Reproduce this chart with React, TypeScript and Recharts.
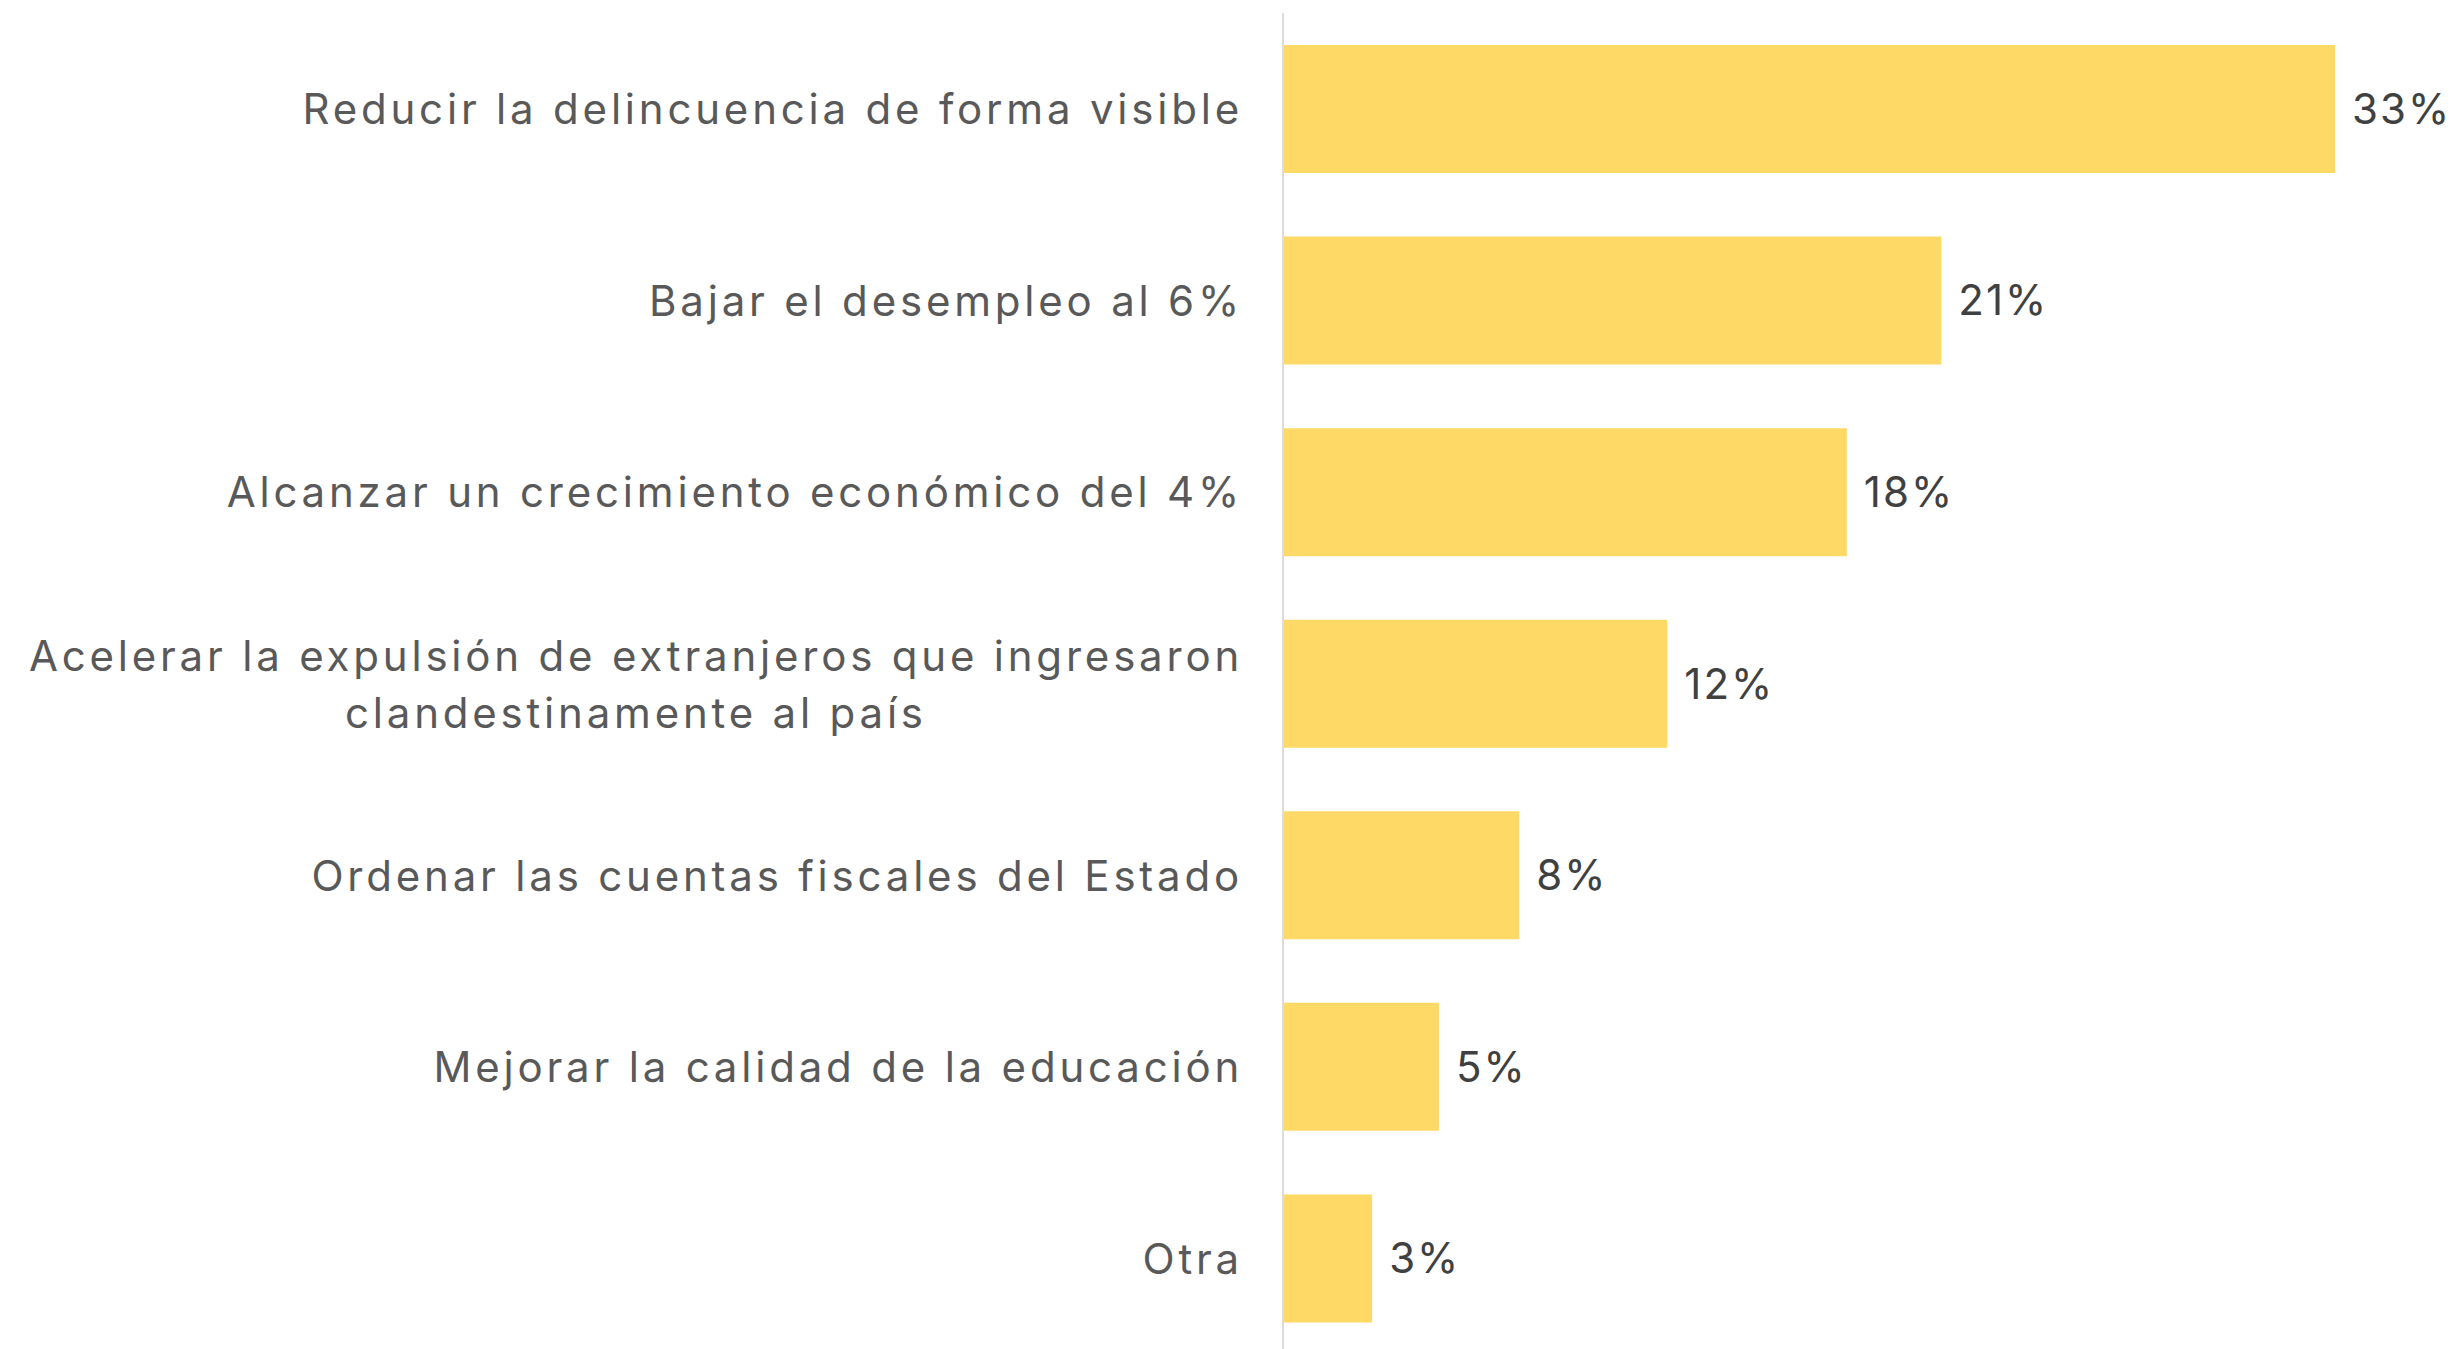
import { Bar, BarChart, LabelList, XAxis, YAxis } from 'recharts';

const categories = [
  'Reducir la delincuencia de forma visible',
  'Bajar el desempleo al 6%',
  'Alcanzar un crecimiento económico del 4%',
  'Acelerar la expulsión de extranjeros que ingresaron\nclandestinamente al país',
  'Ordenar las cuentas fiscales del Estado',
  'Mejorar la calidad de la educación',
  'Otra'
];

const shares = [33.4, 20.9, 17.9, 12.2, 7.5, 4.95, 2.83];

const shareLabels = ['33%', '21%', '18%', '12%', '8%', '5%', '3%'];

const data = categories.map((name, i) => ({
  name,
  value: shares[i],
  label: shareLabels[i]
}));

const FONT = 'Inter, "Open Sans", sans-serif';
const FONT_SIZE = 42;
const LINE_HEIGHT = 57;
const TRACKING = 3.8;

let ctx: CanvasRenderingContext2D | null = null;
const textWidth = (text: string) => {
  if (!ctx) ctx = document.createElement('canvas').getContext('2d');
  if (!ctx) return text.length * (FONT_SIZE * 0.55 + TRACKING);
  ctx.font = `${FONT_SIZE}px ${FONT}`;
  return ctx.measureText(text).width + text.length * TRACKING;
};

const CategoryTick = ({ x, y, payload }: any) => {
  const lines = String(payload.value).split('\n');
  const common = {
    fill: '#595959',
    fontFamily: FONT,
    fontSize: FONT_SIZE,
    letterSpacing: TRACKING,
    dominantBaseline: 'central' as const
  };
  if (lines.length === 1) {
    return (
      <text x={x} y={y} textAnchor="end" {...common}>
        {lines[0]}
      </text>
    );
  }
  // multi-line labels are centred under the widest line, which sits flush right
  const widest = Math.max(...lines.map(textWidth));
  const cx = x - widest / 2;
  return (
    <text x={cx} y={y} textAnchor="middle" {...common}>
      {lines.map((line, i) => (
        <tspan key={i} x={cx} y={y + (i - (lines.length - 1) / 2) * LINE_HEIGHT}>
          {line}
        </tspan>
      ))}
    </text>
  );
};

export default function App() {
  return (
    <div
      style={{
        position: 'fixed',
        left: 0,
        top: 0,
        width: 2459,
        height: 1349,
        overflow: 'hidden',
        background: '#fff'
      }}
    >
      <BarChart
        width={2459}
        height={1354}
        data={data}
        layout="vertical"
        margin={{ top: 13, right: 42, left: 0, bottom: 0 }}
      >
        <XAxis type="number" domain={[0, 36]} hide />
        <YAxis
          type="category"
          dataKey="name"
          width={1283}
          axisLine={{ stroke: '#dcdcdc', strokeWidth: 2 }}
          tickLine={false}
          tickSize={0}
          tickMargin={40}
          tick={<CategoryTick />}
          interval={0}
        />
        <Bar dataKey="value" fill="#fed966" barSize={128} isAnimationActive={false}>
          <LabelList
            dataKey="label"
            position="right"
            offset={17}
            fill="#404040"
            fontFamily={FONT}
            fontSize={FONT_SIZE}
            letterSpacing={2}
          />
        </Bar>
      </BarChart>
    </div>
  );
}
